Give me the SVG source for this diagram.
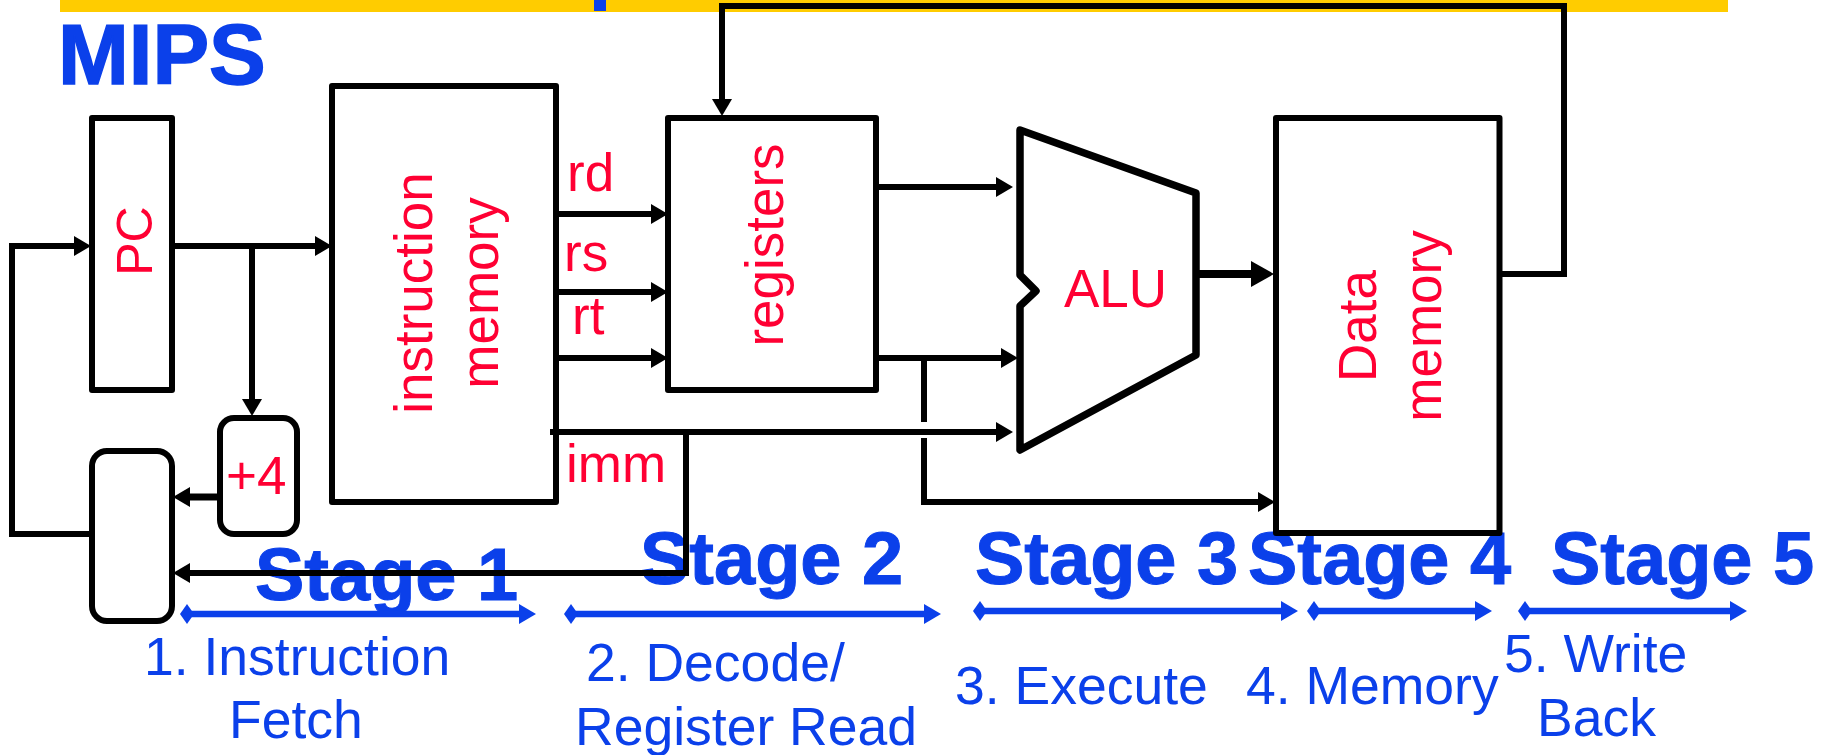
<svg xmlns="http://www.w3.org/2000/svg" width="1821" height="755" viewBox="0 0 1821 755">
<style>
text{font-family:"Liberation Sans",Arial,sans-serif}
.r{fill:#ff0033;font-size:53px}
.b{fill:#0b40ea;font-size:53.500px}
.s{fill:#0b40ea;font-size:74px;font-weight:bold;stroke:#0b40ea;stroke-width:1}
.n{fill:none;stroke:#000;stroke-width:6;stroke-linejoin:round}
.c{fill:none;stroke:#000;stroke-width:6;stroke-linejoin:miter}
.h{fill:none;stroke:#0b40ea;stroke-width:6.500}
</style>
<defs>
<marker id="a" markerUnits="userSpaceOnUse" markerWidth="17" markerHeight="20" refX="0" refY="10" orient="auto"><path d="M0,0L17,10L0,20z" fill="#000"/></marker>
<marker id="A" markerUnits="userSpaceOnUse" markerWidth="23" markerHeight="26" refX="0" refY="13" orient="auto"><path d="M0,0L23,13L0,26z" fill="#000"/></marker>
<marker id="t" markerUnits="userSpaceOnUse" markerWidth="17" markerHeight="20" refX="0" refY="10" orient="auto"><path d="M0,0L17,10L0,20z" fill="#0b40ea"/></marker>
<marker id="d" markerUnits="userSpaceOnUse" markerWidth="14" markerHeight="20" refX="7" refY="10" orient="auto"><path d="M0,10L7,0L14,10L7,20z" fill="#0b40ea"/></marker>
</defs>
<g id="banner"><rect x="60" y="0" width="1668" height="12" fill="#ffcc00"/><rect x="594" y="0" width="12" height="11" fill="#0b40ea"/></g>
<text id="title" x="58" y="84" font-size="85" font-weight="bold" fill="#0b40ea" stroke="#0b40ea" stroke-width="1.500">MIPS</text>
<g id="stages">
<text class="s" x="255" y="600">Stage 1</text>
<text class="s" x="640" y="584">Stage 2</text>
<text class="s" x="975" y="584">Stage 3</text>
<text class="s" x="1248" y="584">Stage 4</text>
<text class="s" x="1551" y="584">Stage 5</text>
</g>
<g id="connectors">
<path class="c" d="M74,246H12V534H92"/>
<path class="c" d="M30,246H74" marker-end="url(#a)"/>
<path class="c" d="M172,246H315" marker-end="url(#a)"/>
<path class="c" d="M252,246V399" marker-end="url(#a)"/>
<path class="c" d="M221,497H190" style="stroke-width:7" marker-end="url(#a)"/>
<path class="c" d="M556,214H651" marker-end="url(#a)"/>
<path class="c" d="M556,292H651" marker-end="url(#a)"/>
<path class="c" d="M556,358H651" marker-end="url(#a)"/>
<path class="c" d="M550,432H996" marker-end="url(#a)"/>
<path class="c" d="M686,432V573H190" marker-end="url(#a)"/>
<path class="c" d="M876,187H996" marker-end="url(#a)"/>
<path class="c" d="M876,358H1001" marker-end="url(#a)"/>
<path class="c" d="M924,358V422M924,438V502H1258" marker-end="url(#a)"/>
<path class="c" d="M1196,274H1251" style="stroke-width:8" marker-end="url(#A)"/>
<path class="c" d="M1499,274H1564V6H722V99" marker-end="url(#a)"/>
<path class="h" d="M187,614H519" marker-start="url(#d)" marker-end="url(#t)"/>
<path class="h" d="M571,614H924" marker-start="url(#d)" marker-end="url(#t)"/>
<path class="h" d="M980,611H1281" marker-start="url(#d)" marker-end="url(#t)"/>
<path class="h" d="M1314,611H1475" marker-start="url(#d)" marker-end="url(#t)"/>
<path class="h" d="M1525,611H1730" marker-start="url(#d)" marker-end="url(#t)"/>
</g>
<g id="pc"><rect class="n" x="92" y="118" width="80" height="272"/><text class="r" transform="translate(152,241) rotate(-90)" text-anchor="middle" font-size="50" style="font-size:50px">PC</text></g>
<g id="instruction-memory"><rect class="n" x="332" y="86" width="224" height="416"/><text class="r" transform="translate(432,293) rotate(-90)" text-anchor="middle">instruction</text><text class="r" transform="translate(498,293) rotate(-90)" text-anchor="middle">memory</text></g>
<g id="registers"><rect class="n" x="668" y="118" width="208" height="272"/><text class="r" transform="translate(783,245) rotate(-90)" text-anchor="middle">registers</text></g>
<g id="alu"><path class="n" style="stroke-width:7.500" d="M1020,130L1196,193V355L1020,450V306L1036,291L1020,275z"/><text class="r" x="1064" y="307">ALU</text></g>
<g id="data-memory"><rect class="n" x="1276" y="118" width="223.500" height="415"/><text class="r" transform="translate(1376,326) rotate(-90)" text-anchor="middle">Data</text><text class="r" transform="translate(1441,326) rotate(-90)" text-anchor="middle">memory</text></g>
<g id="plus4"><rect class="n" x="220" y="418" width="77" height="116" rx="14"/><text class="r" x="226" y="494">+4</text></g>
<g id="mux"><rect class="n" x="92" y="451" width="80" height="170" rx="15"/></g>
<g id="wire-labels">
<text class="r" x="567" y="191">rd</text>
<text class="r" x="564" y="271">rs</text>
<text class="r" x="572" y="334">rt</text>
<text class="r" x="566" y="482">imm</text>
</g>
<g id="stage-labels">
<text class="b" x="144" y="675">1. Instruction</text>
<text class="b" x="229" y="738">Fetch</text>
<text class="b" x="586" y="681">2. Decode/</text>
<text class="b" x="575" y="745">Register Read</text>
<text class="b" x="955" y="704">3. Execute</text>
<text class="b" x="1246" y="704">4. Memory</text>
<text class="b" x="1504" y="672">5. Write</text>
<text class="b" x="1537" y="736">Back</text>
</g>
</svg>
